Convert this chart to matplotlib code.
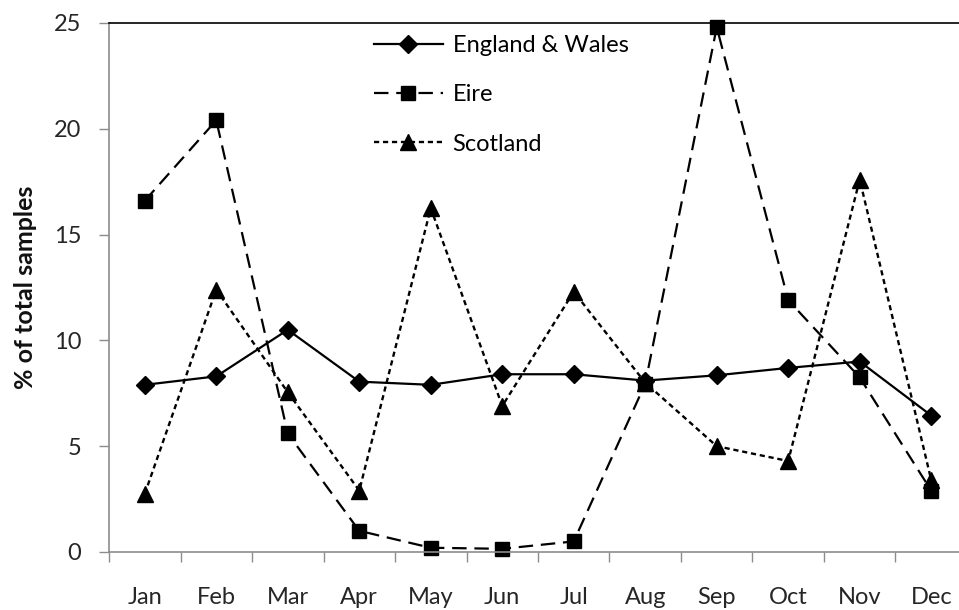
import matplotlib.pyplot as plt

plt.rcParams['font.family'] = ['Lato', 'DejaVu Sans']

months = ['Jan', 'Feb', 'Mar', 'Apr', 'May', 'Jun',
          'Jul', 'Aug', 'Sep', 'Oct', 'Nov', 'Dec']
england_wales = [7.9, 8.3, 10.5, 8.05, 7.9, 8.4, 8.4, 8.1, 8.35, 8.7, 9.0, 6.45]
eire = [16.6, 20.4, 5.6, 1.0, 0.2, 0.15, 0.5, 7.95, 24.8, 11.9, 8.25, 2.9]
scotland = [2.75, 12.4, 7.55, 2.9, 16.25, 6.9, 12.3, 8.0, 5.0, 4.3, 17.6, 3.4]

fig = plt.figure(figsize=(9.59, 6.10), dpi=100)
ax = fig.add_axes([0.1137, 0.0951, 0.8946, 0.8672])

x = list(range(len(months)))
ax.plot(x, england_wales, color='black', lw=1.6, marker='D', ms=9,
        label='England & Wales', clip_on=False)
ax.plot(x, eire, color='black', lw=1.6, marker='s', ms=9.5,
        dashes=(6.5, 3.5), label='Eire', clip_on=False)
ax.plot(x, scotland, color='black', lw=1.7, marker='^', ms=12,
        dashes=(2.2, 1.6), label='Scotland', clip_on=False)

ax.set_xlim(-0.5, 11.5)
ax.set_ylim(0, 25)
ax.set_yticks([0, 5, 10, 15, 20, 25])
ax.set_xticks(x)
ax.set_xticklabels(months)
ax.set_xticks([i - 0.5 for i in range(13)], minor=True)

ax.tick_params(axis='x', which='major', length=0, pad=25,
               labelsize=17, labelcolor='#262626')
ax.tick_params(axis='x', which='minor', length=7, width=1, color='#8c8c8c',
               direction='out')
ax.tick_params(axis='y', length=7, width=1, color='#8c8c8c', pad=13,
               labelsize=17, labelcolor='#262626')

for side in ['left', 'bottom']:
    ax.spines[side].set_color('#8c8c8c')
    ax.spines[side].set_linewidth(1.2)
ax.spines['top'].set_color('black')
ax.spines['top'].set_linewidth(1.2)
ax.spines['right'].set_visible(False)

ax.set_ylabel('% of total samples', fontsize=18, fontweight='bold',
              color='#111111', labelpad=12)

ax.legend(loc='upper left', bbox_to_anchor=(0.298, 0.995), frameon=False,
          fontsize=17, handlelength=2.9, labelspacing=1.2, handletextpad=0.42,
          borderaxespad=0)

fig.savefig('out.png', dpi=100)
